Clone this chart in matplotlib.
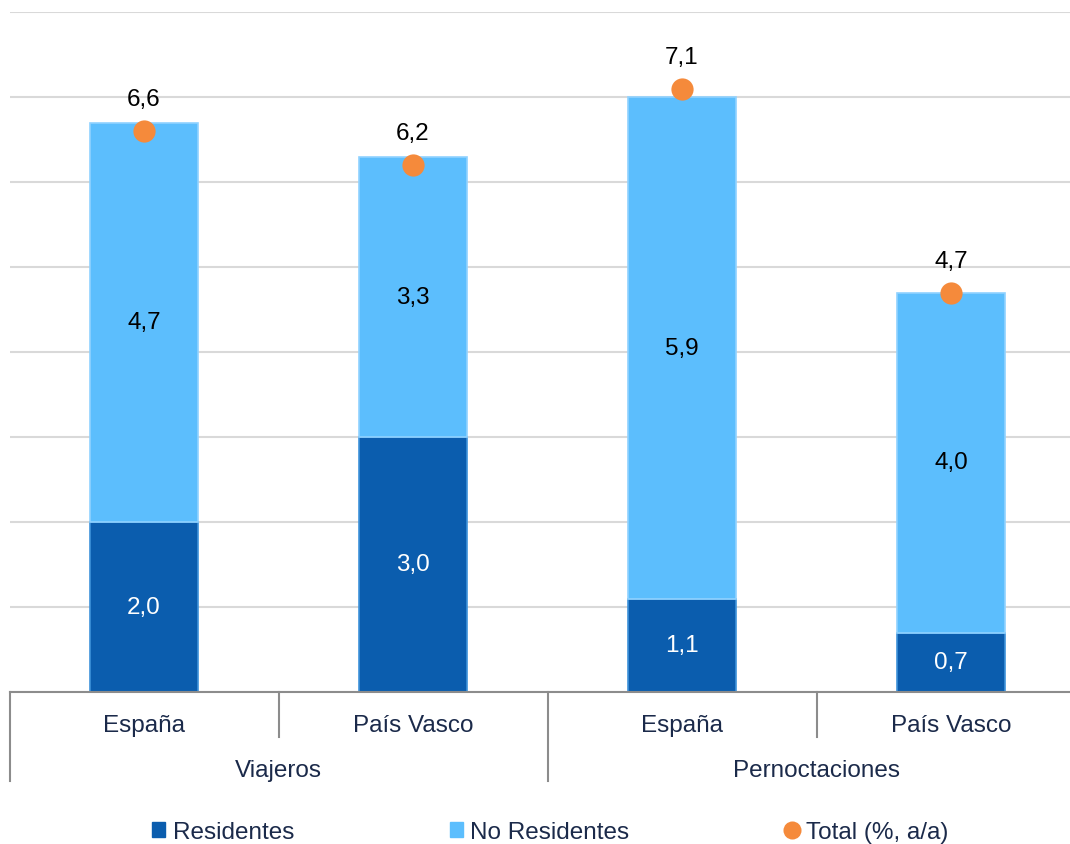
import matplotlib
matplotlib.use("Agg")
import matplotlib.pyplot as plt
from matplotlib.lines import Line2D
from matplotlib.patches import Patch

plt.rcParams['font.family'] = ['Liberation Sans', 'DejaVu Sans']

categories = ["España", "País Vasco", "España", "País Vasco"]
groups = ["Viajeros", "Pernoctaciones"]
residentes = [2.0, 3.0, 1.1, 0.7]
no_residentes = [4.7, 3.3, 5.9, 4.0]
total = [6.6, 6.2, 7.1, 4.7]

c_res = "#0B5DAE"
c_res_edge = "#3E92DA"
c_nores = "#5CBEFD"
c_nores_edge = "#90D2FF"
c_total = "#F58A3B"
c_text = "#1B2A4A"
FS = 17.5

W, H = 1070, 845
fig = plt.figure(figsize=(W / 100, H / 100), dpi=100)
ax = fig.add_axes([9.5 / W, 152 / H, 1076 / W, 680 / H])

x = list(range(len(categories)))
ax.bar(x, residentes, width=0.4, color=c_res, edgecolor=c_res_edge, linewidth=1.2, zorder=2)
ax.bar(x, no_residentes, width=0.4, bottom=residentes, color=c_nores,
       edgecolor=c_nores_edge, linewidth=1.2, zorder=2)
ax.scatter(x, total, s=256, color=c_total, zorder=4, linewidths=0)

fmt = lambda v: f"{v:.1f}".replace(".", ",")
for i in x:
    ax.text(i, residentes[i] / 2, fmt(residentes[i]), ha="center", va="center",
            color="white", fontsize=FS, zorder=5)
    ax.text(i, residentes[i] + no_residentes[i] / 2, fmt(no_residentes[i]),
            ha="center", va="center", color="black", fontsize=FS, zorder=5)
    ax.annotate(fmt(total[i]), (i, total[i]), xytext=(0, 23), textcoords="offset points",
                ha="center", va="center", color="black", fontsize=FS, zorder=5)

ax.set_xlim(-0.5, 3.5)
ax.set_ylim(0, 8)
ax.set_yticks(range(0, 9))
ax.yaxis.grid(True, color="#D9D9D9", linewidth=1.5, zorder=0)
ax.set_axisbelow(True)
ax.tick_params(left=False, labelleft=False, bottom=False, labelbottom=False)
for s in ["top", "right", "left"]:
    ax.spines[s].set_visible(False)
ax.spines["bottom"].set_color("#8C8C8C")
ax.spines["bottom"].set_linewidth(1.5)
ax.spines["bottom"].set_zorder(3)

# multi-level category axis
trans = ax.get_xaxis_transform()
px = 1 / 680  # axes fraction per pixel
for xs, depth in [(-0.5, 89), (0.5, 45), (1.5, 89), (2.5, 45), (3.5, 89)]:
    ax.add_line(Line2D([xs, xs], [0, -depth * px], transform=trans, color="#8C8C8C",
                       linewidth=1.5, clip_on=False))
for i, c in zip(x, categories):
    ax.text(i, -33 * px, c, transform=trans, ha="center", va="center",
            fontsize=FS, color=c_text)
for g, gi in enumerate(groups):
    ax.text(0.5 + 2 * g, -78 * px, gi, transform=trans, ha="center", va="center",
            fontsize=FS, color=c_text)

handles = [Patch(facecolor=c_res, edgecolor=c_res),
           Patch(facecolor=c_nores, edgecolor=c_nores),
           Line2D([], [], marker="o", linestyle="none", markersize=13,
                  markerfacecolor=c_total, markeredgewidth=0)]
labels = ["Residentes", "No Residentes", "Total (%, a/a)"]
leg = fig.legend(handles, labels, loc="center", bbox_to_anchor=(550 / W, 1 - 833 / H),
                 ncol=3, frameon=False, fontsize=FS, handlelength=0.55, handleheight=0.55,
                 handletextpad=0.3, columnspacing=6.4, labelcolor=c_text)

fig.savefig("out.png", dpi=100)
